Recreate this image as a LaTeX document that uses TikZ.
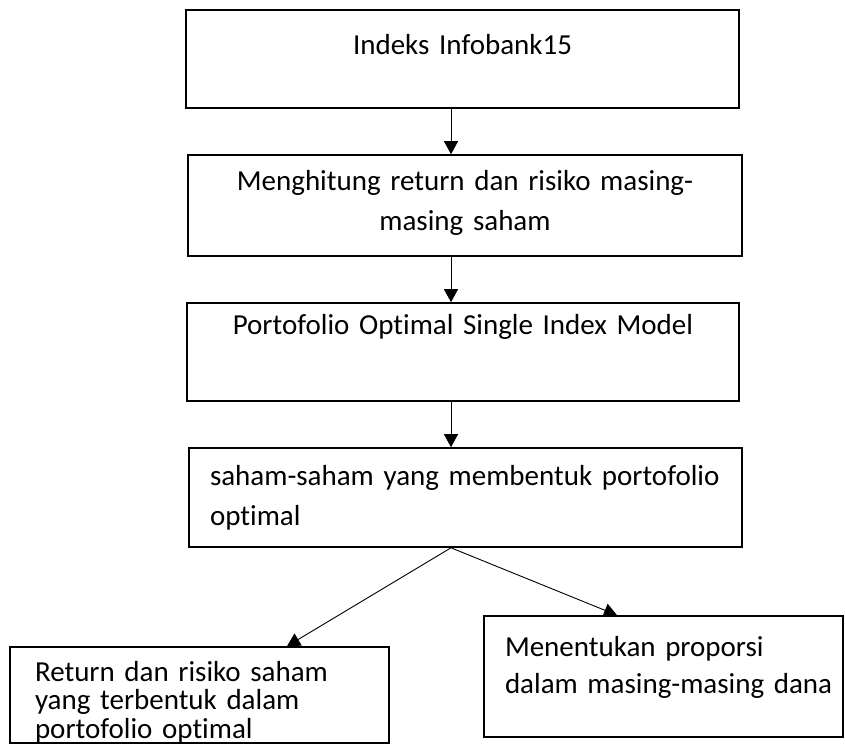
\documentclass[tikz,border=0pt]{standalone}
\usepackage{fontspec}
\setmainfont{Carlito}[Ligatures=NoCommon]
\usetikzlibrary{arrows.meta}

\begin{document}
\begin{tikzpicture}[x=1pt, y=-1pt,
    box/.style={draw, line width=1.6pt, inner sep=0pt, font=\fontsize{29}{40}\selectfont},
    arr/.style={-{Triangle[length=13pt, width=14pt]}, line width=0.9pt}]
    \useasboundingbox (0,0) rectangle (845,744);
    \coordinate (axis) at (451,0);

    \node[box, text width=553pt, align=center, text height=44pt, text depth=54pt] (b1) at (462.5,59) {Indeks Infobank15};
    \node[box, text width=554pt, align=center, text height=35pt, text depth=66pt] (b2) at (465,205.5) {Menghitung return dan risiko masing-\\masing saham};
    \node[box, text width=552pt, align=center, text height=31pt, text depth=67pt] (b3) at (463,352) {Portofolio Optimal Single Index Model};
    \node[box, inner xsep=21pt, text width=511pt, align=left, text height=37pt, text depth=62pt] (b4) at (465.5,497.5) {saham-saham yang membentuk portofolio\\optimal};

    \node[box, inner xsep=25pt, text width=329pt, align=left, text height=34pt, text depth=62pt, font=\fontsize{29}{28.5}\selectfont] (b5) at (199.5,695) {Return dan risiko saham\\yang terbentuk dalam\\portofolio optimal};
    \node[box, inner xsep=21pt, text width=317pt, align=left, text height=40pt, text depth=81pt, font=\fontsize{29}{37}\selectfont] (b6) at (663.5,676.5) {Menentukan proporsi\\\mbox{dalam masing-masing dana}};

    \draw[arr] (b1.south -| axis) -- (b2.north -| axis);
    \draw[arr] (b2.south -| axis) -- (b3.north -| axis);
    \draw[arr] (b3.south -| axis) -- (b4.north -| axis);
    \draw[arr] (b4.south -| axis) -- ([xshift=87.5pt]b5.north);
    \draw[arr] (b4.south -| axis) -- ([xshift=-46.5pt]b6.north);
\end{tikzpicture}
\end{document}
